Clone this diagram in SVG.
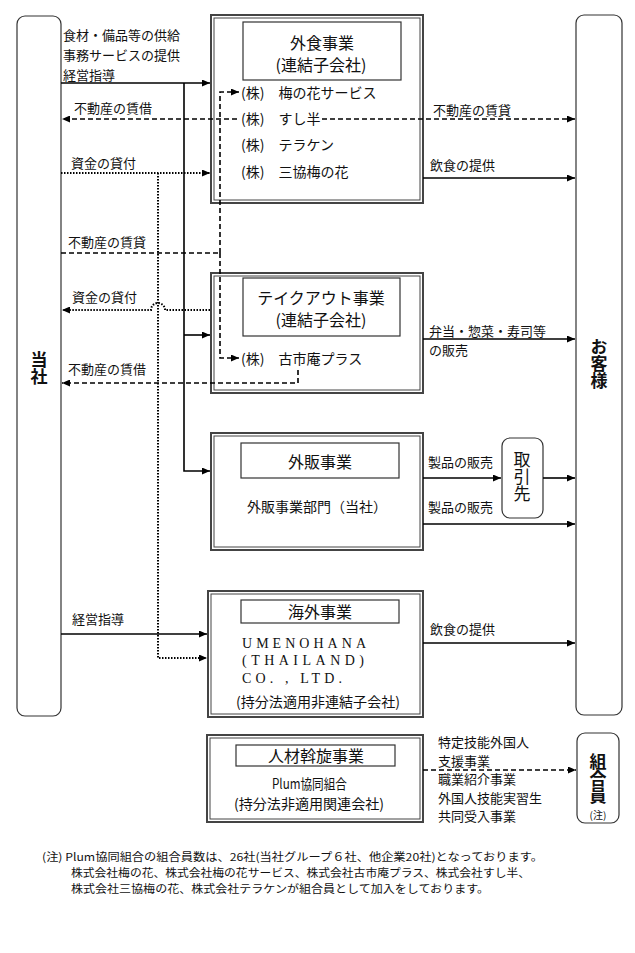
<svg xmlns="http://www.w3.org/2000/svg" width="635" height="953" viewBox="0 0 635 953">
<style>
text{font-family:"Noto Sans CJK JP","Noto Sans",sans-serif;fill:#111}
.l{font-size:13px}
.m{font-size:14px}
.t{font-size:16px}
.b{font-size:17px;font-weight:bold}
.v{writing-mode:vertical-rl;text-orientation:upright}
.fn{font-size:11px}
.ser{font-family:"Liberation Serif","Noto Sans CJK JP",serif;font-size:14px}
.s{stroke:#000;stroke-width:1.6;fill:none}
.d{stroke:#000;stroke-width:1.6;fill:none;stroke-dasharray:5 3}
.o{stroke:#000;stroke-width:2;fill:none;stroke-dasharray:1.5 1.5}
.bo{fill:#fff;stroke:#444;stroke-width:2}
.bi{fill:none;stroke:#444;stroke-width:1}
.tb{fill:#fff;stroke:#333;stroke-width:1.2}
.rr{fill:#fff;stroke:#333;stroke-width:1.2}
</style>
<defs>
<marker id="a" markerUnits="userSpaceOnUse" markerWidth="9" markerHeight="7" refX="8" refY="3.5" orient="auto"><path d="M0,0 L8,3.5 L0,7 z" fill="#000"/></marker>
</defs>
<rect width="635" height="953" fill="#fff"/>

<g id="tousha">
<rect class="rr" x="17" y="16" width="44" height="700" rx="8"/>
<text class="b v" x="39" y="351">当社</text>
</g>

<g id="okyakusama">
<rect class="rr" x="576" y="15" width="46" height="700" rx="8"/>
<text class="b v" x="599" y="338">お客様</text>
</g>

<g id="gaishoku">
<rect class="bo" x="211" y="15" width="212" height="188"/>
<rect class="bi" x="214" y="18" width="206" height="182"/>
<rect class="tb" x="243" y="22" width="158" height="58"/>
<text class="t" x="322" y="49" text-anchor="middle">外食事業</text>
<text class="t" x="321" y="71" text-anchor="middle">(連結子会社)</text>
<text class="m" x="241" y="98">(株)　梅の花サービス</text>
<text class="m" x="241" y="124">(株)　すし半</text>
<text class="m" x="241" y="150">(株)　テラケン</text>
<text class="m" x="241" y="177">(株)　三協梅の花</text>
</g>

<g id="takeout">
<rect class="bo" x="211" y="273" width="212" height="120"/>
<rect class="bi" x="214" y="276" width="206" height="114"/>
<rect class="tb" x="243" y="278" width="157" height="58"/>
<text class="t" x="321" y="304" text-anchor="middle">テイクアウト事業</text>
<text class="t" x="321" y="326" text-anchor="middle">(連結子会社)</text>
<text class="m" x="241" y="364">(株)　古市庵プラス</text>
</g>

<g id="gaihan">
<rect class="bo" x="211" y="433" width="212" height="117"/>
<rect class="bi" x="214" y="436" width="206" height="111"/>
<rect class="tb" x="241" y="443" width="158" height="35"/>
<text class="t" x="320" y="468" text-anchor="middle">外販事業</text>
<text class="m" x="247" y="512">外販事業部門（当社）</text>
</g>

<g id="torihikisaki">
<rect class="rr" x="502" y="438" width="41" height="80" rx="8"/>
<text class="v" x="522" y="451" style="font-size:17px">取引先</text>
</g>

<g id="kaigai">
<rect class="bo" x="208" y="591" width="215" height="126"/>
<rect class="bi" x="211" y="594" width="209" height="120"/>
<rect class="tb" x="241" y="600" width="158" height="23"/>
<text class="t" x="320" y="618" text-anchor="middle">海外事業</text>
<text class="ser" x="242" y="648" textLength="124" lengthAdjust="spacing">UMENOHANA</text>
<text class="ser" x="242" y="665" textLength="122" lengthAdjust="spacing">(THAILAND)</text>
<text class="ser" x="242" y="683" textLength="100" lengthAdjust="spacing">CO. , LTD.</text>
<text class="m" x="236" y="707" textLength="164" lengthAdjust="spacingAndGlyphs">(持分法適用非連結子会社)</text>
</g>

<g id="jinzai">
<rect class="bo" x="207" y="735" width="216" height="87"/>
<rect class="bi" x="210" y="738" width="210" height="81"/>
<rect class="tb" x="236" y="745" width="159" height="21"/>
<text class="t" x="316" y="762" text-anchor="middle">人材斡旋事業</text>
<text class="m" x="272" y="789" textLength="75" lengthAdjust="spacingAndGlyphs">Plum協同組合</text>
<text class="m" x="234" y="809" textLength="150" lengthAdjust="spacingAndGlyphs">(持分法非適用関連会社)</text>
</g>

<g id="kumiaiin">
<rect class="rr" x="577" y="733" width="42" height="90" rx="8"/>
<text class="b v" x="598" y="753">組合員</text>
<text x="598" y="819" text-anchor="middle" style="font-size:10px">(注)</text>
</g>

<g id="connectors">
<path class="s" d="M61,83 H210" marker-end="url(#a)"/>
<path class="s" d="M184,83 V471 H210" marker-end="url(#a)"/>
<path class="s" d="M184,335 H210" marker-end="url(#a)"/>
<path class="d" d="M237,119 H62" marker-end="url(#a)"/>
<path class="d" d="M322,119 H575" marker-end="url(#a)"/>
<path class="d" d="M61,253 H220"/>
<path class="d" d="M220,253 V92 H239" marker-end="url(#a)"/>
<path class="d" d="M220,253 V358 H239" marker-end="url(#a)"/>
<path class="d" d="M298,370 V383 H62" marker-end="url(#a)"/>
<path class="o" d="M61,173 H210" marker-end="url(#a)"/>
<path class="o" d="M158,173 V658 H207" marker-end="url(#a)"/>
<path class="o" d="M210,310 H165 A7,7 0 0 0 151,310 H62" marker-end="url(#a)"/>
<path class="s" d="M61,634 H207" marker-end="url(#a)"/>
<path class="s" d="M423,178 H575" marker-end="url(#a)"/>
<path class="s" d="M423,339 H575" marker-end="url(#a)"/>
<path class="s" d="M423,478 H501" marker-end="url(#a)"/>
<path class="s" d="M543,478 H575" marker-end="url(#a)"/>
<path class="s" d="M423,524 H575" marker-end="url(#a)"/>
<path class="s" d="M423,643 H575" marker-end="url(#a)"/>
<path class="d" d="M423,770 H576" marker-end="url(#a)"/>
</g>

<g id="labels">
<text class="l" x="63" y="40">食材・備品等の供給</text>
<text class="l" x="63" y="60">事務サービスの提供</text>
<text class="l" x="63" y="80">経営指導</text>
<text class="l" x="74" y="113">不動産の賃借</text>
<text class="l" x="71" y="168">資金の貸付</text>
<text class="l" x="68" y="247">不動産の賃貸</text>
<text class="l" x="72" y="302">資金の貸付</text>
<text class="l" x="68" y="374">不動産の賃借</text>
<text class="l" x="72" y="624">経営指導</text>
<text class="l" x="433" y="115">不動産の賃貸</text>
<text class="l" x="430" y="170">飲食の提供</text>
<text class="l" x="429" y="336">弁当・惣菜・寿司等</text>
<text class="l" x="429" y="355">の販売</text>
<text class="l" x="428" y="467">製品の販売</text>
<text class="l" x="428" y="512">製品の販売</text>
<text class="l" x="430" y="634">飲食の提供</text>
<text class="l" x="438" y="747">特定技能外国人</text>
<text class="l" x="438" y="766">支援事業</text>
<text class="l" x="438" y="784">職業紹介事業</text>
<text class="l" x="438" y="803">外国人技能実習生</text>
<text class="l" x="438" y="821">共同受入事業</text>
</g>

<g id="footnote">
<text class="fn" x="42" y="861" textLength="501" lengthAdjust="spacingAndGlyphs">(注) Plum協同組合の組合員数は、26社(当社グループ６社、他企業20社)となっております。</text>
<text class="fn" x="71" y="877" textLength="459" lengthAdjust="spacingAndGlyphs">株式会社梅の花、株式会社梅の花サービス、株式会社古市庵プラス、株式会社すし半、</text>
<text class="fn" x="71" y="893" textLength="418" lengthAdjust="spacingAndGlyphs">株式会社三協梅の花、株式会社テラケンが組合員として加入をしております。</text>
</g>
</svg>
